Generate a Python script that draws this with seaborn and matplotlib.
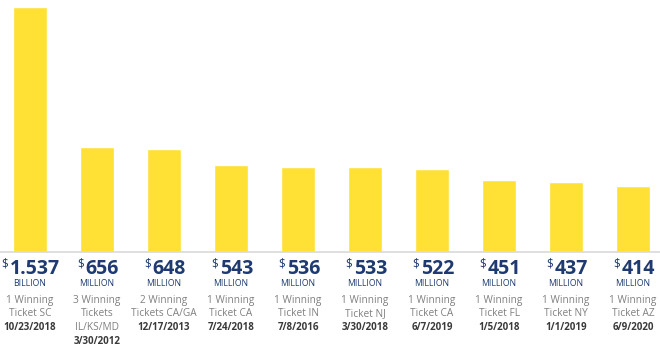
import matplotlib
matplotlib.use("Agg")
import matplotlib.pyplot as plt
import matplotlib.transforms as mtransforms
import seaborn as sns
import pandas as pd

categories = ["SC 2018", "IL/KS/MD 2012", "CA/GA 2013", "CA 2018", "IN 2016",
              "NJ 2018", "CA 2019", "FL 2018", "NY 2019", "AZ 2020"]
values = [1537, 656, 648, 543, 536, 533, 522, 451, 437, 414]
amount_labels = ["1.537", "656", "648", "543", "536", "533", "522", "451", "437", "414"]
unit_labels = ["BILLION"] + ["MILLION"] * 9
desc_labels = [
    ["1 Winning", "Ticket SC"],
    ["3 Winning", "Tickets", "IL/KS/MD"],
    ["2 Winning", "Tickets CA/GA"],
    ["1 Winning", "Ticket CA"],
    ["1 Winning", "Ticket IN"],
    ["1 Winning", "Ticket NJ"],
    ["1 Winning", "Ticket CA"],
    ["1 Winning", "Ticket FL"],
    ["1 Winning", "Ticket NY"],
    ["1 Winning", "Ticket AZ"],
]
date_labels = ["10/23/2018", "3/30/2012", "12/17/2013", "7/24/2018", "7/8/2016",
               "3/30/2018", "6/7/2019", "1/5/2018", "1/1/2019", "6/9/2020"]

YELLOW = "#FFE135"
NAVY = "#1E3A70"
GRAY = "#808080"
DARK = "#3a3a3a"

sns.set_style("white")
plt.rcParams["font.family"] = ["Open Sans", "DejaVu Sans"]

W, H = 660, 353
fig = plt.figure(figsize=(W / 100, H / 100), dpi=100)
ax_bottom = 252
ax_top = 7
ax = fig.add_axes([0, 1 - ax_bottom / H, 1, (ax_bottom - ax_top) / H])

df = pd.DataFrame({"cat": categories, "val": values})
sns.barplot(data=df, x="cat", y="val", color=YELLOW, saturation=1, width=0.51, ax=ax)

ax.set_xlim(-0.448, 9.403)
ax.set_ylim(0, 1537)
ax.set_xticks([])
ax.set_yticks([])
ax.set_xlabel("")
ax.set_ylabel("")
for s in ax.spines.values():
    s.set_visible(False)
ax.axhline(0, color="#d9d9d9", lw=1.2, clip_on=False)

tr = mtransforms.blended_transform_factory(ax.transData, fig.transFigure)

def fy(y_img):
    return 1 - y_img / H

fig.canvas.draw()
renderer = fig.canvas.get_renderer()
for i in range(len(values)):
    num = ax.text(i + 0.08, fy(269), amount_labels[i], transform=tr, ha="center", va="center",
                  fontsize=14, fontweight="bold", color=NAVY, clip_on=False)
    bb = num.get_window_extent(renderer=renderer)
    x_left_fig = (bb.x0 - 2) / W
    ax.text(x_left_fig, fy(264), r"\$", transform=fig.transFigure, ha="right", va="center",
            fontsize=8.5, color=NAVY, clip_on=False)
    ax.text(i, fy(284), unit_labels[i], transform=tr, ha="center", va="center",
            fontsize=6.2, color=NAVY, clip_on=False)
    y = 300
    for line in desc_labels[i]:
        ax.text(i, fy(y), line, transform=tr, ha="center", va="center",
                fontsize=7.3, color=GRAY, clip_on=False)
        y += 13.5
    ax.text(i, fy(y + 0.5), date_labels[i], transform=tr, ha="center", va="center",
            fontsize=7, fontweight="bold", color=DARK, clip_on=False)

fig.savefig("out.png", dpi=100)
